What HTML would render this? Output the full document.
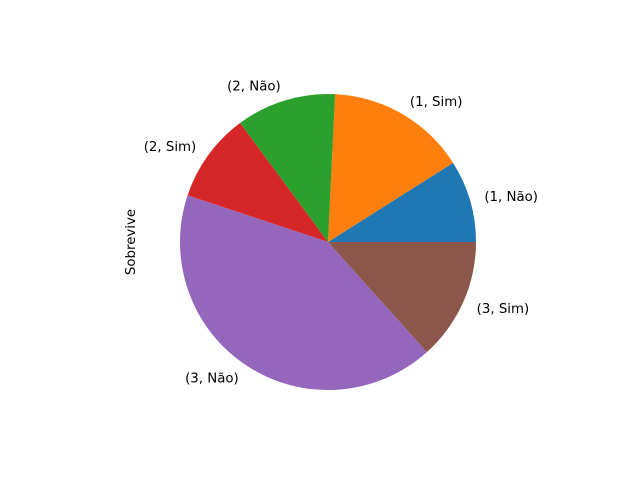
<!DOCTYPE html>
<html><head><meta charset="utf-8"><style>
html,body{margin:0;padding:0;background:#fff;}
svg text{font-family:"DejaVu Sans","Liberation Sans",sans-serif;font-size:13.33px;fill:#000;}
</style></head><body>
<svg id="chart" width="640" height="480" xmlns="http://www.w3.org/2000/svg">
<text transform="translate(135,242) rotate(-90)" text-anchor="middle">Sobrevive</text>
</svg>
<script>
const categories = ["(1, Não)", "(1, Sim)", "(2, Não)", "(2, Sim)", "(3, Não)", "(3, Sim)"];
const values = [80, 136, 97, 87, 372, 119];
const colors = ["#1f77b4", "#ff7f0e", "#2ca02c", "#d62728", "#9467bd", "#8c564b"];
const svg = document.getElementById('chart');
const NS = "http://www.w3.org/2000/svg";
const cx = 328, cy = 242, r = 148;
const total = values.reduce((a, b) => a + b, 0);
let start = 0;
function pt(a, rr) { return [cx + rr * Math.cos(a), cy - rr * Math.sin(a)]; }
values.forEach((v, i) => {
  const sweep = v / total * 2 * Math.PI;
  const end = start + sweep;
  const [x1, y1] = pt(start, r), [x2, y2] = pt(end, r);
  const large = sweep > Math.PI ? 1 : 0;
  const p = document.createElementNS(NS, 'path');
  p.setAttribute('d', `M${cx},${cy} L${x1},${y1} A${r},${r} 0 ${large} 0 ${x2},${y2} Z`);
  p.setAttribute('fill', colors[i]);
  
  
  svg.appendChild(p);
  const mid = start + sweep / 2;
  const [lx, ly] = pt(mid, r * 1.1);
  const t = document.createElementNS(NS, 'text');
  t.setAttribute('x', lx);
  t.setAttribute('y', ly + 4.5);
  t.setAttribute('text-anchor', Math.cos(mid) >= 0 ? 'start' : 'end');
  t.textContent = categories[i];
  
  
  svg.appendChild(t);
  start = end;
});
</script>
</body></html>
